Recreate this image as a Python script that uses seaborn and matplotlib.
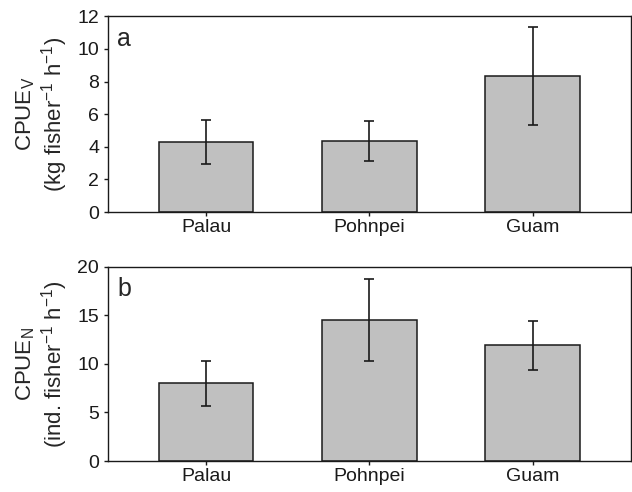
import numpy as np
import matplotlib
matplotlib.use("Agg")
import matplotlib.pyplot as plt
import seaborn as sns

# data
sites = ["Palau", "Pohnpei", "Guam"]
cpue_v = [4.3, 4.35, 8.33]
cpue_v_err = [1.33, 1.2, 3.0]
cpue_n = [8.0, 14.5, 11.9]
cpue_n_err = [2.3, 4.25, 2.5]

sns.set_style("ticks")
plt.rcParams["font.family"] = ["Liberation Sans", "DejaVu Sans"]
plt.rcParams["mathtext.fontset"] = "custom"
plt.rcParams["mathtext.rm"] = "Liberation Sans"

fig = plt.figure(figsize=(6.32, 4.92), dpi=100)
ax1 = fig.add_axes([0.171, 0.569, 0.827, 0.398])
ax2 = fig.add_axes([0.171, 0.063, 0.827, 0.395])


def panel(ax, vals, errs, ymax, step, letter, label):
    sns.barplot(x=sites, y=vals, ax=ax, color="#c0c0c0", edgecolor="#1a1a1a",
                linewidth=1.1, width=0.58, errorbar=None, saturation=1)
    ax.errorbar(np.arange(len(sites)), vals, yerr=errs, fmt="none",
                ecolor="#1a1a1a", elinewidth=1.2, capsize=3.8, capthick=1.2)
    ax.set_xlim(-0.6, 2.6)
    ax.set_ylim(0, ymax)
    ax.set_yticks(np.arange(0, ymax + 0.1, step))
    for s in ax.spines.values():
        s.set_linewidth(1.0)
        s.set_color("#1a1a1a")
    ax.tick_params(axis="both", direction="out", length=3, width=1,
                   labelsize=14, colors="#1a1a1a")
    ax.tick_params(axis="y", pad=3.5)
    ax.tick_params(axis="x", pad=2)
    ax.set_ylabel(label, fontsize=16, linespacing=1.1, labelpad=5)
    ax.text(0.017, 0.85, letter, transform=ax.transAxes, fontsize=18,
            va="baseline", ha="left")


panel(ax1, cpue_v, cpue_v_err, 12, 2, "a",
      "CPUE$_\\mathregular{V}$\n(kg fisher$^{\\mathregular{-1}}$ h$^{\\mathregular{-1}}$)")
panel(ax2, cpue_n, cpue_n_err, 20, 5, "b",
      "CPUE$_\\mathregular{N}$\n(ind. fisher$^{\\mathregular{-1}}$ h$^{\\mathregular{-1}}$)")

fig.savefig("out.png", dpi=100)
